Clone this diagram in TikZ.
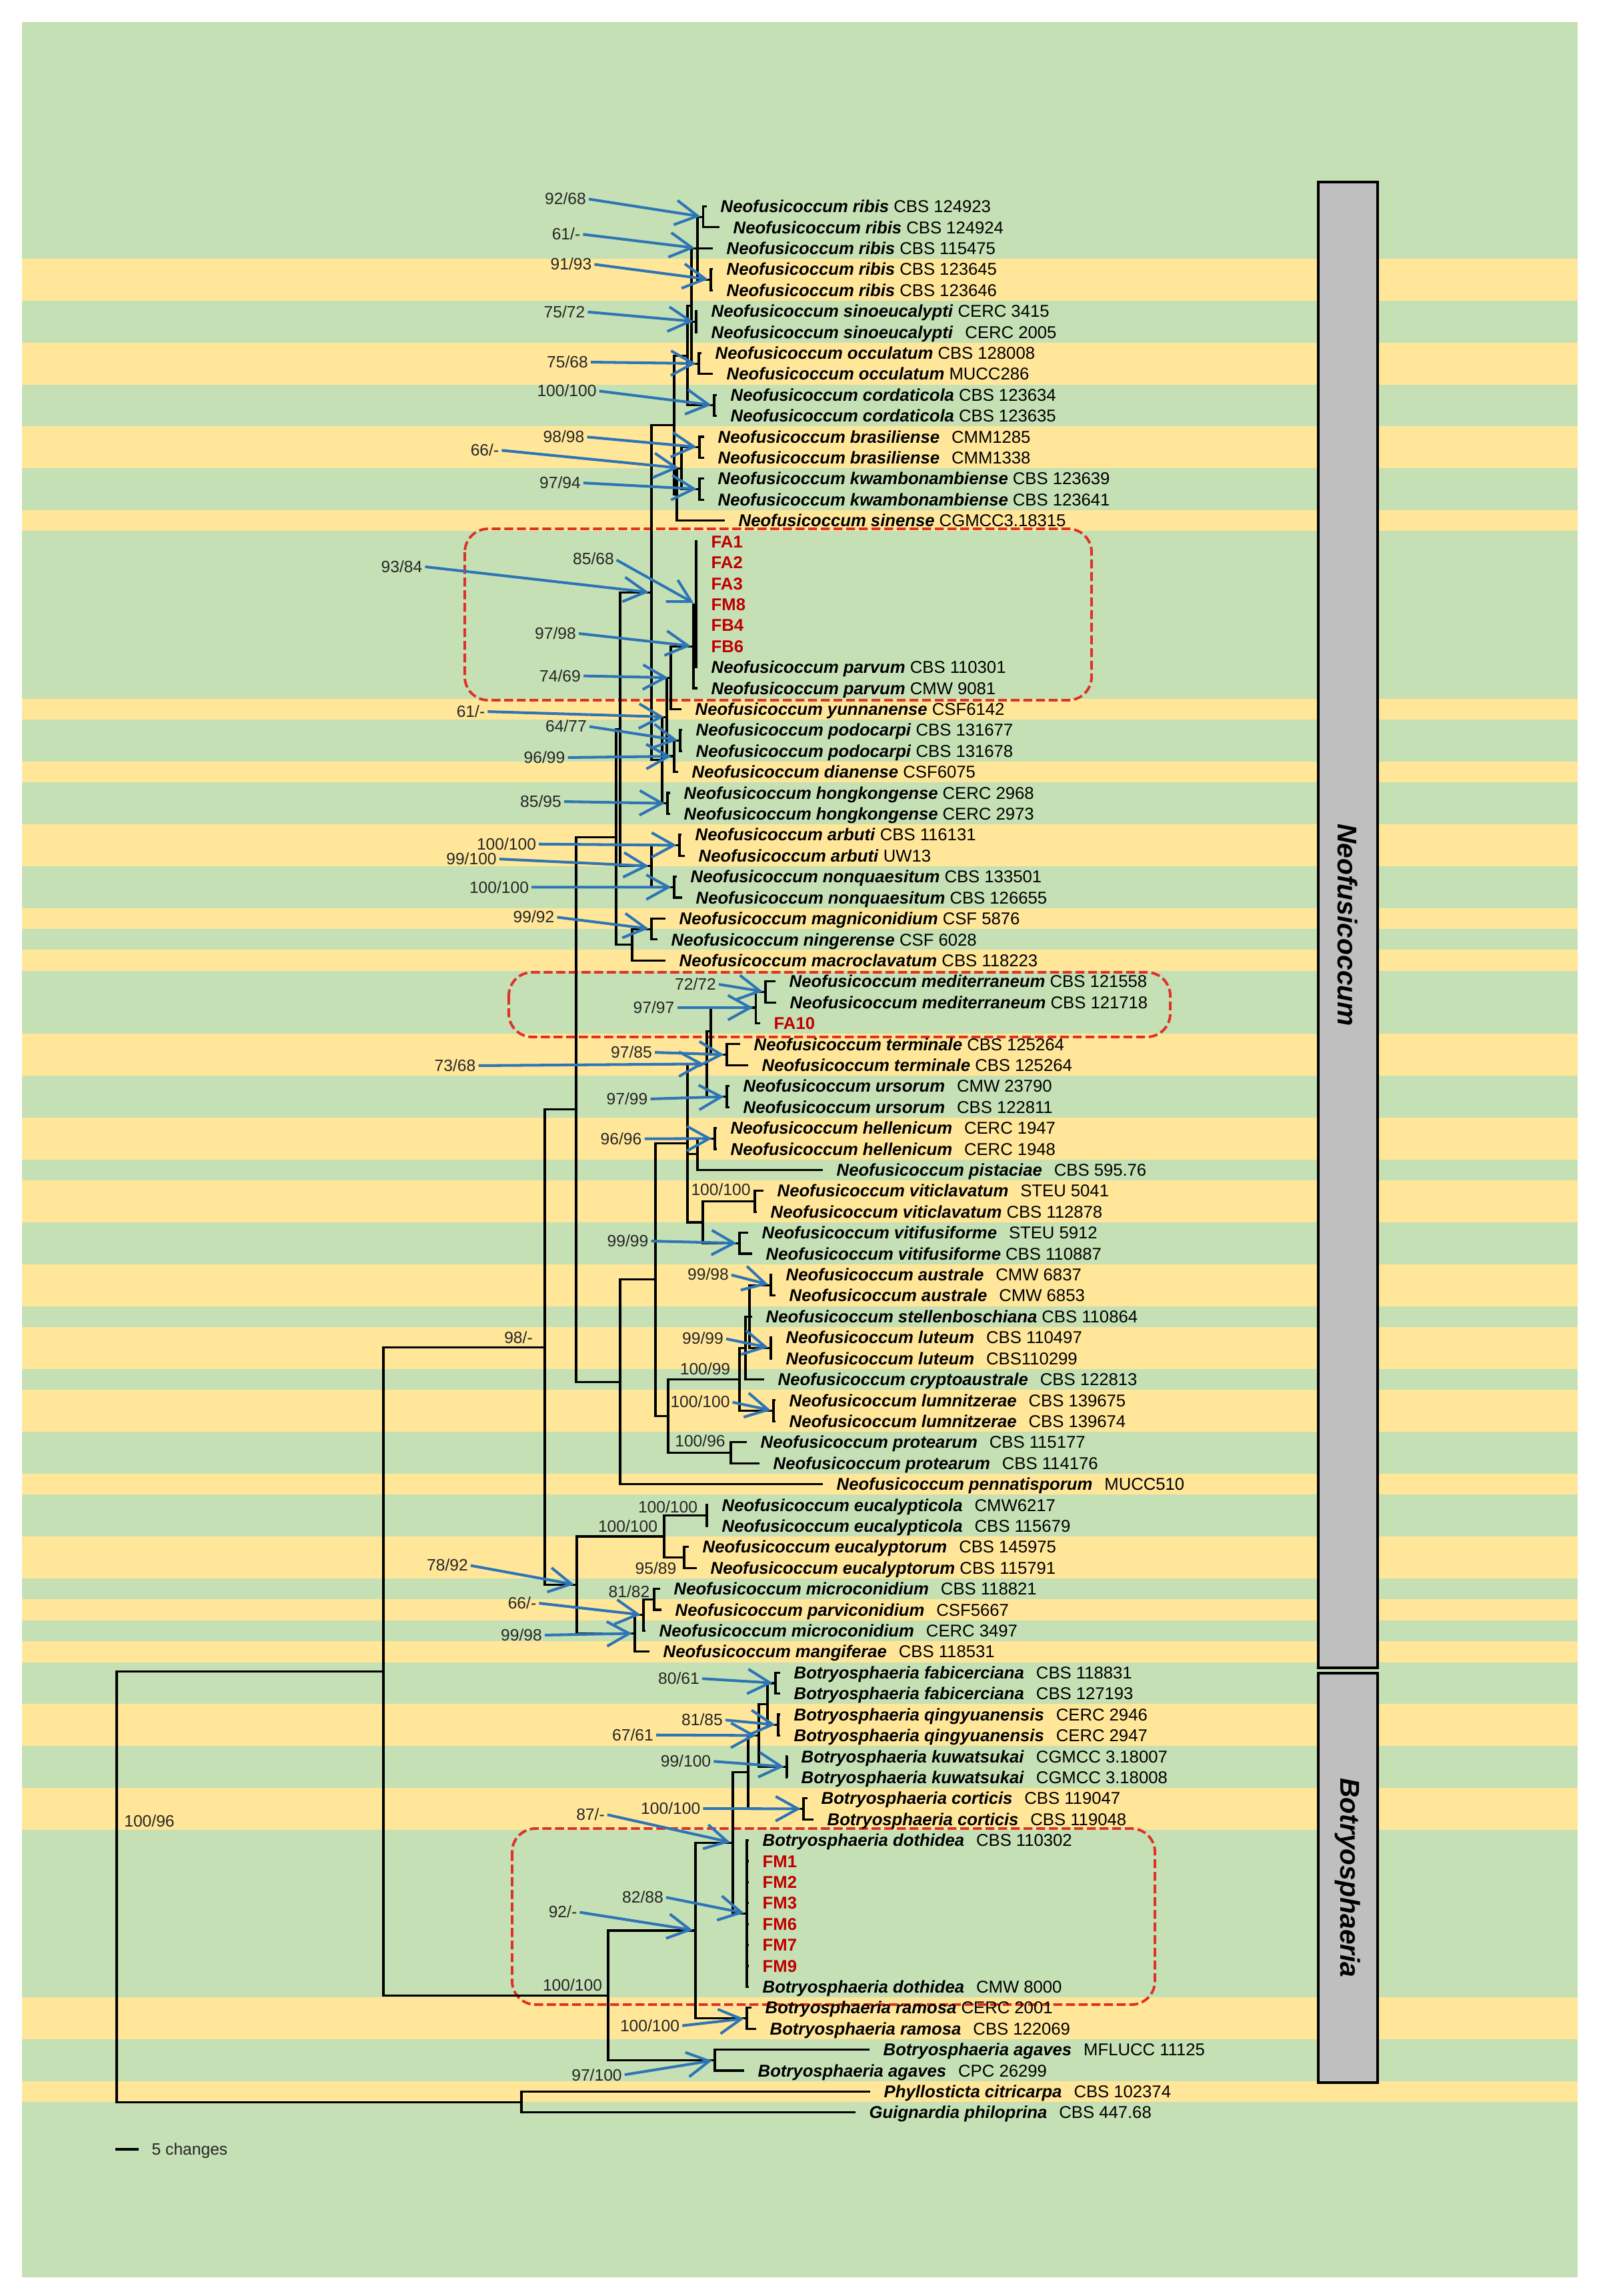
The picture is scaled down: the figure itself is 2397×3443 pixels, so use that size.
\documentclass[tikz,border=0pt]{standalone}
\usepackage{fontspec}
\setmainfont{Liberation Sans}
\usetikzlibrary{arrows.meta}
\definecolor{bggreen}{RGB}{197,224,180}
\definecolor{bgyellow}{RGB}{255,230,153}
\definecolor{arrblue}{RGB}{46,117,182}
\definecolor{boxred}{RGB}{224,48,40}
\definecolor{isored}{RGB}{192,0,0}
\definecolor{bargray}{RGB}{191,191,191}
\newcommand\sn[1]{\textbf{\textit{#1}}}
\newcommand\iso[1]{\textcolor{isored}{\textbf{#1}}}
\newcommand\wsp{\hspace{0.7em}}
\newcommand\leaf[3]{\coordinate (L#1) at (#2,{R(#1)}); \node[tx] (lab#1) at ({#2+20},{R(#1)}) {#3};}
\begin{document}
\begin{tikzpicture}[x=0.01cm, y=-0.01cm,
  declare function={R(\i)=309.5+31.41*\i;},
  br/.style={line width=0.9pt, black},
  tx/.style={anchor=west, inner sep=0pt, font=\fontsize{7.3}{8.5}\selectfont, text height=5.2pt, text depth=0pt},
  bs/.style={inner sep=0pt, font=\fontsize{7}{8}\selectfont, text=black!85, text height=5pt, text depth=0pt},
  arr/.style={arrblue, line width=1.15pt, -{Straight Barb[length=9.5pt, width=10.5pt]}, shorten >=1.2pt, shorten <=1pt},
  dbox/.style={boxred, line width=1.1pt, dash pattern=on 3.8pt off 1.6pt, rounded corners=10pt},
  gbar/.style={fill=bargray, draw=black, line width=1pt},
  glab/.style={rotate=-90, inner sep=0pt, font=\fontsize{11.6}{13}\selectfont\bfseries\itshape}]
\useasboundingbox (0,0) rectangle (2397,3443);
\fill[white] (0,0) rectangle (2397,3443);
\fill[bggreen] (33,33) rectangle (2366,3415);
\foreach \i in {3,4,7,8,11,12,15,24,27,30,31,34,36,40,41,44,45,47,48,51,52,54,55,57,58,61,64,65,67,69,72,73,76,77,86,87,90}
  \fill[bgyellow] (33,{R(\i)-15.8}) rectangle (2366,{R(\i)+15.8});

% dashed boxes
\draw[dbox] (697,793) rectangle (1637,1050);
\draw[dbox] (763,1458) rectangle (1755,1555);
\draw[dbox] (768,2742) rectangle (1732,3006);

% genus bars
\draw[gbar] (1977,273) rectangle (2066,2501);
\node[glab] (gNeo) at (2021.5,1387) {Neofusicoccum};
\draw[gbar] (1977,2509) rectangle (2066,3123);
\node[glab] (gBot) at (2021.5,2816) {Botryosphaeria};

% leaves
\leaf{0}{1060}{\sn{Neofusicoccum ribis} CBS 124923}
\leaf{1}{1079}{\sn{Neofusicoccum ribis} CBS 124924}
\leaf{2}{1069}{\sn{Neofusicoccum ribis} CBS 115475}
\leaf{3}{1069}{\sn{Neofusicoccum ribis} CBS 123645}
\leaf{4}{1069}{\sn{Neofusicoccum ribis} CBS 123646}
\leaf{5}{1046}{\sn{Neofusicoccum sinoeucalypti} CERC 3415}
\leaf{6}{1046}{\sn{Neofusicoccum sinoeucalypti}\wsp CERC 2005}
\leaf{7}{1052}{\sn{Neofusicoccum occulatum} CBS 128008}
\leaf{8}{1069}{\sn{Neofusicoccum occulatum} MUCC286}
\leaf{9}{1075}{\sn{Neofusicoccum cordaticola} CBS 123634}
\leaf{10}{1075}{\sn{Neofusicoccum cordaticola} CBS 123635}
\leaf{11}{1056}{\sn{Neofusicoccum brasiliense}\wsp CMM1285}
\leaf{12}{1056}{\sn{Neofusicoccum brasiliense}\wsp CMM1338}
\leaf{13}{1056}{\sn{Neofusicoccum kwambonambiense} CBS 123639}
\leaf{14}{1056}{\sn{Neofusicoccum kwambonambiense} CBS 123641}
\leaf{15}{1087}{\sn{Neofusicoccum sinense} CGMCC3.18315}
\leaf{16}{1046}{\iso{FA1}}
\leaf{17}{1046}{\iso{FA2}}
\leaf{18}{1046}{\iso{FA3}}
\leaf{19}{1046}{\iso{FM8}}
\leaf{20}{1046}{\iso{FB4}}
\leaf{21}{1046}{\iso{FB6}}
\leaf{22}{1046}{\sn{Neofusicoccum parvum} CBS 110301}
\leaf{23}{1046}{\sn{Neofusicoccum parvum} CMW 9081}
\leaf{24}{1022}{\sn{Neofusicoccum yunnanense} CSF6142}
\leaf{25}{1023}{\sn{Neofusicoccum podocarpi} CBS 131677}
\leaf{26}{1023}{\sn{Neofusicoccum podocarpi} CBS 131678}
\leaf{27}{1017}{\sn{Neofusicoccum dianense} CSF6075}
\leaf{28}{1005}{\sn{Neofusicoccum hongkongense} CERC 2968}
\leaf{29}{1005}{\sn{Neofusicoccum hongkongense} CERC 2973}
\leaf{30}{1022}{\sn{Neofusicoccum arbuti} CBS 116131}
\leaf{31}{1027}{\sn{Neofusicoccum arbuti} UW13}
\leaf{32}{1015}{\sn{Neofusicoccum nonquaesitum} CBS 133501}
\leaf{33}{1023}{\sn{Neofusicoccum nonquaesitum} CBS 126655}
\leaf{34}{998}{\sn{Neofusicoccum magniconidium} CSF 5876}
\leaf{35}{986}{\sn{Neofusicoccum ningerense} CSF 6028}
\leaf{36}{998}{\sn{Neofusicoccum macroclavatum} CBS 118223}
\leaf{37}{1163}{\sn{Neofusicoccum mediterraneum} CBS 121558}
\leaf{38}{1164}{\sn{Neofusicoccum mediterraneum} CBS 121718}
\leaf{39}{1140}{\iso{FA10}}
\leaf{40}{1110}{\sn{Neofusicoccum terminale} CBS 125264}
\leaf{41}{1122}{\sn{Neofusicoccum terminale} CBS 125264}
\leaf{42}{1094}{\sn{Neofusicoccum ursorum}\wsp CMW 23790}
\leaf{43}{1094}{\sn{Neofusicoccum ursorum}\wsp CBS 122811}
\leaf{44}{1075}{\sn{Neofusicoccum hellenicum}\wsp CERC 1947}
\leaf{45}{1075}{\sn{Neofusicoccum hellenicum}\wsp CERC 1948}
\leaf{46}{1234}{\sn{Neofusicoccum pistaciae}\wsp CBS 595.76}
\leaf{47}{1145}{\sn{Neofusicoccum viticlavatum}\wsp STEU 5041}
\leaf{48}{1135}{\sn{Neofusicoccum viticlavatum} CBS 112878}
\leaf{49}{1122}{\sn{Neofusicoccum vitifusiforme}\wsp STEU 5912}
\leaf{50}{1128}{\sn{Neofusicoccum vitifusiforme} CBS 110887}
\leaf{51}{1158}{\sn{Neofusicoccum australe}\wsp CMW 6837}
\leaf{52}{1163}{\sn{Neofusicoccum australe}\wsp CMW 6853}
\leaf{53}{1128}{\sn{Neofusicoccum stellenboschiana} CBS 110864}
\leaf{54}{1158}{\sn{Neofusicoccum luteum}\wsp CBS 110497}
\leaf{55}{1158}{\sn{Neofusicoccum luteum}\wsp CBS110299}
\leaf{56}{1146}{\sn{Neofusicoccum cryptoaustrale}\wsp CBS 122813}
\leaf{57}{1163}{\sn{Neofusicoccum lumnitzerae}\wsp CBS 139675}
\leaf{58}{1163}{\sn{Neofusicoccum lumnitzerae}\wsp CBS 139674}
\leaf{59}{1120}{\sn{Neofusicoccum protearum}\wsp CBS 115177}
\leaf{60}{1139}{\sn{Neofusicoccum protearum}\wsp CBS 114176}
\leaf{61}{1234}{\sn{Neofusicoccum pennatisporum}\wsp MUCC510}
\leaf{62}{1062}{\sn{Neofusicoccum eucalypticola}\wsp CMW6217}
\leaf{63}{1062}{\sn{Neofusicoccum eucalypticola}\wsp CBS 115679}
\leaf{64}{1033}{\sn{Neofusicoccum eucalyptorum}\wsp CBS 145975}
\leaf{65}{1045}{\sn{Neofusicoccum eucalyptorum} CBS 115791}
\leaf{66}{990}{\sn{Neofusicoccum microconidium}\wsp CBS 118821}
\leaf{67}{992}{\sn{Neofusicoccum parviconidium}\wsp CSF5667}
\leaf{68}{968}{\sn{Neofusicoccum microconidium}\wsp CERC 3497}
\leaf{69}{974}{\sn{Neofusicoccum mangiferae}\wsp CBS 118531}
\leaf{70}{1170}{\sn{Botryosphaeria fabicerciana}\wsp CBS 118831}
\leaf{71}{1170}{\sn{Botryosphaeria fabicerciana}\wsp CBS 127193}
\leaf{72}{1170}{\sn{Botryosphaeria qingyuanensis}\wsp CERC 2946}
\leaf{73}{1170}{\sn{Botryosphaeria qingyuanensis}\wsp CERC 2947}
\leaf{74}{1181}{\sn{Botryosphaeria kuwatsukai}\wsp CGMCC 3.18007}
\leaf{75}{1181}{\sn{Botryosphaeria kuwatsukai}\wsp CGMCC 3.18008}
\leaf{76}{1211}{\sn{Botryosphaeria corticis}\wsp CBS 119047}
\leaf{77}{1220}{\sn{Botryosphaeria corticis}\wsp CBS 119048}
\leaf{78}{1123}{\sn{Botryosphaeria dothidea}\wsp CBS 110302}
\leaf{79}{1123}{\iso{FM1}}
\leaf{80}{1123}{\iso{FM2}}
\leaf{81}{1123}{\iso{FM3}}
\leaf{82}{1123}{\iso{FM6}}
\leaf{83}{1123}{\iso{FM7}}
\leaf{84}{1123}{\iso{FM9}}
\leaf{85}{1123}{\sn{Botryosphaeria dothidea}\wsp CMW 8000}
\leaf{86}{1127}{\sn{Botryosphaeria ramosa} CERC 2001}
\leaf{87}{1134}{\sn{Botryosphaeria ramosa}\wsp CBS 122069}
\leaf{88}{1304}{\sn{Botryosphaeria agaves}\wsp MFLUCC 11125}
\leaf{89}{1116}{\sn{Botryosphaeria agaves}\wsp CPC 26299}
\leaf{90}{1305}{\sn{Phyllosticta citricarpa}\wsp CBS 102374}
\leaf{91}{1283}{\sn{Guignardia philoprina}\wsp CBS 447.68}

% internal nodes
\coordinate (nP01) at (1054.5,325.2);
\coordinate (nP34) at (1066,419.4);
\coordinate (nRb) at (1046,372.3);
\coordinate (nSino) at (1044,482.3);
\coordinate (nOcc) at (1048,545.1);
\coordinate (nRB) at (1037,458.7);
\coordinate (nCord) at (1071,607.9);
\coordinate (nRA) at (1031,533.3);
\coordinate (nBras) at (1049,670.7);
\coordinate (nKwa) at (1049,733.5);
\coordinate (nK66) at (1022,702.1);
\coordinate (nS) at (1015,741.4);
\coordinate (nT0) at (1011,637.35);
\coordinate (nN85) at (1044,906.3);
\coordinate (nPv) at (1040,969.1);
\coordinate (nN74) at (1006,1016.2);
\coordinate (nPodo) at (1020,1110.5);
\coordinate (nN96) at (1011,1134.05);
\coordinate (nN61b) at (1000,1075.1);
\coordinate (nHK) at (1001,1204.7);
\coordinate (nC2) at (993,1139.9);
\coordinate (nN93) at (977,888.6);
\coordinate (nArb) at (1019,1267.5);
\coordinate (nNonq) at (1011,1330.3);
\coordinate (nAN) at (977,1298.9);
\coordinate (nX) at (930,1093.75);
\coordinate (nMN) at (977,1393.15);
\coordinate (nMag) at (948,1416.7);
\coordinate (nNA1) at (924,1255.2);
\coordinate (nMedP) at (1148,1487.4);
\coordinate (nMed) at (1133.5,1511);
\coordinate (nTerm) at (1090,1581.6);
\coordinate (nT1) at (1066,1546.3);
\coordinate (nUrs) at (1090,1644.4);
\coordinate (nT) at (1060,1595.35);
\coordinate (nHel) at (1072,1707.25);
\coordinate (nHP) at (1046,1730.8);
\coordinate (nVitic) at (1132,1801.5);
\coordinate (nVitif) at (1109,1864.3);
\coordinate (nVV) at (1054,1832.9);
\coordinate (nH) at (1031,1714.1);
\coordinate (nAus) at (1156,1927.1);
\coordinate (nLut) at (1156,2021.35);
\coordinate (nAL2) at (1124,1974.2);
\coordinate (nAL) at (1118,2021.35);
\coordinate (nLumn) at (1160,2115.6);
\coordinate (nAC) at (1109,2068.5);
\coordinate (nProt) at (1096,2178.4);
\coordinate (nNA2b) at (1002,2123.45);
\coordinate (nNA2a) at (983,1918.8);
\coordinate (nNA2) at (930,2072.15);
\coordinate (nNeoA) at (864,1663.7);
\coordinate (nEucP) at (1060,2272.6);
\coordinate (nEuryP) at (1026,2335.45);
\coordinate (nEuc) at (996,2304.0);
\coordinate (nN81) at (981,2398.3);
\coordinate (nN66) at (965,2421.85);
\coordinate (nMic) at (952,2449.3);
\coordinate (nNeoB) at (865,2376.65);
\coordinate (nNeo) at (817,2020.2);
\coordinate (nFab) at (1163,2523.9);
\coordinate (nQing) at (1167,2586.7);
\coordinate (nFQ) at (1151,2555.3);
\coordinate (nKuw) at (1180,2649.55);
\coordinate (nN67) at (1138,2602.4);
\coordinate (nCort) at (1205,2712.4);
\coordinate (nUB) at (1122,2657.4);
\coordinate (nDoth) at (1120,2869.45);
\coordinate (nB3) at (1099,2763.4);
\coordinate (nRam) at (1120,3026.5);
\coordinate (nB2) at (1043,2894.95);
\coordinate (nAg) at (1072,3089.3);
\coordinate (nBot) at (912,2992.1);
\coordinate (nI) at (575,2506.15);
\coordinate (nO) at (782,3152.1);
\coordinate (nRoot) at (175,2829.1);

% branches
\foreach \p/\c in {nP01/L0, nP01/L1, nRb/nP01, nRb/L2, nRb/nP34, nP34/L3, nP34/L4,
 nRB/nRb, nRB/nSino, nRB/nOcc, nSino/L5, nSino/L6, nOcc/L7, nOcc/L8,
 nRA/nRB, nRA/nCord, nCord/L9, nCord/L10,
 nBras/L11, nBras/L12, nKwa/L13, nKwa/L14, nK66/nBras, nK66/nKwa, nS/nK66, nS/L15,
 nT0/nRA, nT0/nS,
 nN85/L16, nN85/L17, nN85/L18, nN85/L19, nN85/L20, nN85/L21, nN85/L22,
 nPv/nN85, nPv/L23, nN74/nPv, nN74/L24,
 nPodo/L25, nPodo/L26, nN96/nPodo, nN96/L27, nN61b/nN74, nN61b/nN96,
 nHK/L28, nHK/L29, nC2/nN61b, nC2/nHK, nN93/nT0, nN93/nC2,
 nArb/L30, nArb/L31, nNonq/L32, nNonq/L33, nAN/nArb, nAN/nNonq,
 nX/nN93, nX/nAN, nMN/L34, nMN/L35, nMag/nMN, nMag/L36, nNA1/nX, nNA1/nMag,
 nMedP/L37, nMedP/L38, nMed/nMedP, nMed/L39, nTerm/L40, nTerm/L41, nT1/nMed, nT1/nTerm,
 nUrs/L42, nUrs/L43, nT/nT1, nT/nUrs,
 nHel/L44, nHel/L45, nHP/nHel, nHP/L46,
 nVitic/L47, nVitic/L48, nVitif/L49, nVitif/L50, nVV/nVitic, nVV/nVitif,
 nH/nT, nH/nHP, nH/nVV,
 nAus/L51, nAus/L52, nLut/L54, nLut/L55, nAL2/nAus, nAL2/L53, nAL2/nLut, nAL/nAL2, nAL/L56,
 nLumn/L57, nLumn/L58, nAC/nAL, nAC/nLumn, nProt/L59, nProt/L60, nNA2b/nAC, nNA2b/nProt,
 nNA2a/nH, nNA2a/nNA2b, nNA2/nNA2a, nNA2/L61, nNeoA/nNA1, nNeoA/nNA2,
 nEucP/L62, nEucP/L63, nEuryP/L64, nEuryP/L65, nEuc/nEucP, nEuc/nEuryP,
 nN81/L66, nN81/L67, nN66/nN81, nN66/L68, nMic/nN66, nMic/L69,
 nNeoB/nEuc, nNeoB/nMic, nNeo/nNeoA, nNeo/nNeoB,
 nFab/L70, nFab/L71, nQing/L72, nQing/L73, nFQ/nFab, nFQ/nQing, nKuw/L74, nKuw/L75, nN67/nFQ, nN67/nKuw,
 nCort/L76, nCort/L77, nUB/nN67, nUB/nCort,
 nDoth/L78, nDoth/L79, nDoth/L80, nDoth/L81, nDoth/L82, nDoth/L83, nDoth/L84, nDoth/L85,
 nB3/nUB, nB3/nDoth,
 nRam/L86, nRam/L87, nB2/nB3, nB2/nRam, nAg/L88, nAg/L89, nBot/nB2, nBot/nAg,
 nI/nNeo, nI/nBot, nO/L90, nO/L91, nRoot/nI, nRoot/nO}
  \draw[br] (\p) |- (\c);

% support values with arrows
\node[bs] (a1) at (848,298) {92/68};
\node[bs] (a2) at (849,351) {61/-};
\node[bs] (a3) at (856.5,396) {91/93};
\node[bs] (a4) at (846.5,467.5) {75/72};
\node[bs] (a5) at (851,543) {75/68};
\node[bs] (a6) at (850,586) {100/100};
\node[bs] (a7) at (845.5,655) {98/98};
\node[bs] (a8) at (727,675) {66/-};
\node[bs] (a9) at (840,724) {97/94};
\node[bs] (a10) at (602.5,849.5) {93/84};
\node[bs] (a11) at (890,838) {85/68};
\node[bs] (a12) at (833,949.6) {97/98};
\node[bs] (a13) at (840,1013.5) {74/69};
\node[bs] (a14) at (706,1067) {61/-};
\node[bs] (a15) at (849,1089) {64/77};
\node[bs] (a16) at (816.5,1136) {96/99};
\node[bs] (a17) at (811,1202) {85/95};
\node[bs] (a18) at (759.5,1265.7) {100/100};
\node[bs] (a19) at (707,1288) {99/100};
\node[bs] (a20) at (748.5,1330.4) {100/100};
\node[bs] (a21) at (800.5,1375) {99/92};
\node[bs] (a22) at (1043,1475.5) {72/72};
\node[bs] (a23) at (980.5,1511) {97/97};
\node[bs] (a24) at (947,1578) {97/85};
\node[bs] (a25) at (682.5,1598) {73/68};
\node[bs] (a26) at (940.5,1648) {97/99};
\node[bs] (a27) at (931.5,1707.7) {96/96};
\node[bs] (a29) at (941.5,1861) {99/99};
\node[bs] (a30) at (1062,1911) {99/98};
\node[bs] (a31) at (1054,2007) {99/99};
\node[bs] (a33) at (1050,2102) {100/100};
\node[bs] (a39) at (671,2347) {78/92};
\node[bs] (a41) at (783,2403.7) {66/-};
\node[bs] (a42) at (782,2452) {99/98};
\node[bs] (a43) at (1018,2517) {80/61};
\node[bs] (a44) at (1053,2579) {81/85};
\node[bs] (a45) at (949,2601.7) {67/61};
\node[bs] (a46) at (1028.5,2641) {99/100};
\node[bs] (a47) at (1005.7,2712) {100/100};
\node[bs] (a48) at (885.5,2720.5) {87/-};
\node[bs] (a49) at (964,2844.5) {82/88};
\node[bs] (a50) at (844,2867) {92/-};
\node[bs] (a52) at (974.5,3038) {100/100};
\node[bs] (a53) at (895,3111.7) {97/100};

\foreach \a/\t in {a1/nP01, a2/nRb, a3/nP34, a4/nSino, a5/nOcc, a6/nCord, a7/nBras, a8/nK66, a9/nKwa,
 a10/nN93, a11/nN85, a12/nPv, a13/nN74, a14/nN61b, a15/nPodo, a16/nN96, a17/nHK, a18/nArb, a19/nAN,
 a20/nNonq, a21/nMN, a22/nMedP, a23/nMed, a24/nTerm, a25/nT, a26/nUrs, a27/nHel, a29/nVitif,
 a30/nAus, a31/nLut, a33/nLumn, a39/nNeoB, a41/nN66, a42/nMic, a43/nFab, a44/nQing, a45/nN67,
 a46/nKuw, a47/nCort, a48/nB3, a49/nDoth, a50/nB2, a52/nRam, a53/nAg}
  \draw[arr] (\a.east) -- (\t);

% support values without arrows
\node[bs] (b28) at (1081,1783.6) {100/100};
\node[bs] (b32) at (1057.5,2052.8) {100/99};
\node[bs] (b34) at (1050,2161) {100/96};
\node[bs] (b35) at (777.5,2006) {98/-};
\node[bs] (b36) at (1001.5,2260) {100/100};
\node[bs] (b37) at (941.5,2289) {100/100};
\node[bs] (b38) at (983.5,2352) {95/89};
\node[bs] (b40) at (943.5,2386.5) {81/82};
\node[bs] (b51) at (858.5,2976.7) {100/100};
\node[bs] (b54) at (224,2731) {100/96};

% scale bar
\coordinate (sb1) at (173,3223);
\coordinate (sb2) at (208,3223);
\draw[br] (sb1) -- (sb2);
\node[bs, anchor=west] (sbl) at (227,3223) {5 changes};
\end{tikzpicture}
\end{document}
